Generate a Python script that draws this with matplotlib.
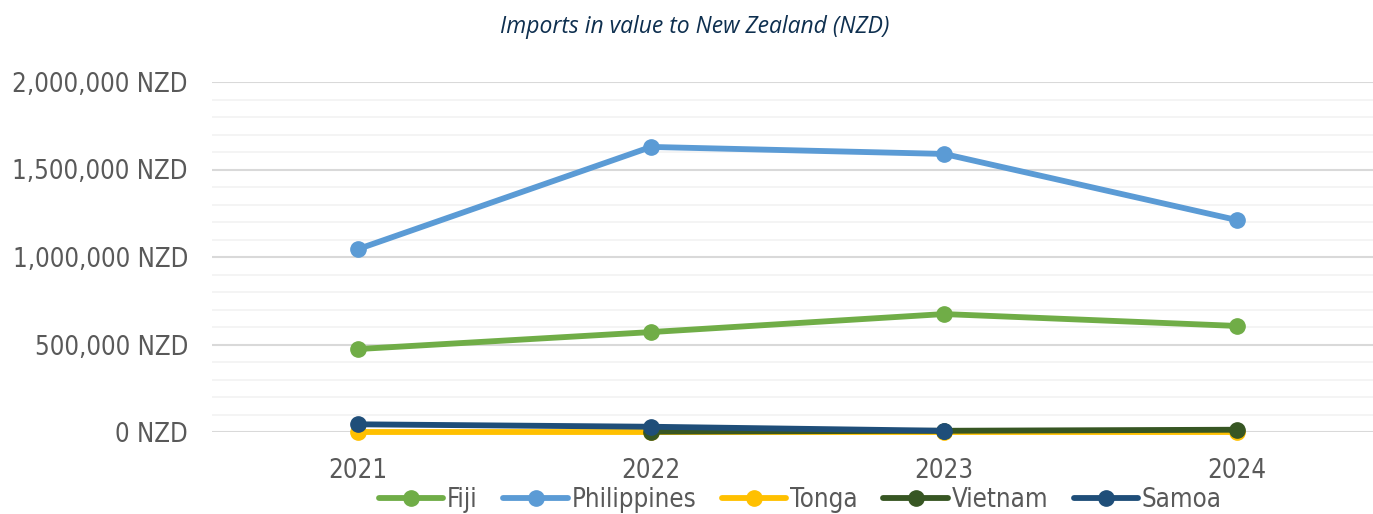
import numpy as np
import matplotlib
matplotlib.use("Agg")
import matplotlib.pyplot as plt
from matplotlib import font_manager
from matplotlib.ticker import FuncFormatter, MultipleLocator

# data (NZD)
years = ["2021", "2022", "2023", "2024"]
fiji = [474000, 571000, 674000, 606000]
philippines = [1045000, 1629000, 1589000, 1211000]
tonga = [1000, 1000, 1000, 1000]
vietnam = [np.nan, 2000, 7000, 13000]
samoa = [44000, 30000, 7000, np.nan]

series_names = ["Fiji", "Philippines", "Tonga", "Vietnam", "Samoa"]
series_vals = [fiji, philippines, tonga, vietnam, samoa]
series_cols = ["#70AD47", "#5B9BD5", "#FFC000", "#375623", "#1F4E79"]

GREY = "#595959"

# the reference uses a condensed sans; take one if installed
narrow = None
for f in font_manager.fontManager.ttflist:
    if f.style == "normal" and f.weight in (400, "normal", "regular"):
        if "Narrow" in f.name or "Condensed" in f.name or f.stretch in ("condensed", 300, 400) and "Condensed" in f.fname:
            narrow = f
            break
if narrow is not None:
    tick_prop = font_manager.FontProperties(fname=narrow.fname, size=18.5)
else:
    tick_prop = font_manager.FontProperties(family=["Roboto", "DejaVu Sans"], size=15.5)

fig = plt.figure(figsize=(13.73, 5.14), dpi=100)
ax = fig.add_axes([211.5 / 1373, 1 - 432 / 514, 1172 / 1373, 350 / 514])

x = np.arange(len(years))
for name, vals, col in zip(series_names, series_vals, series_cols):
    ax.plot(x, vals, color=col, lw=4.2, marker="o", ms=11,
            solid_capstyle="round", label=name, zorder=3, clip_on=False)

ax.set_xlim(-0.5, len(years) - 0.5)
ax.set_ylim(0, 2000000)
ax.yaxis.set_major_locator(MultipleLocator(500000))
ax.yaxis.set_minor_locator(MultipleLocator(100000))
ax.yaxis.set_major_formatter(FuncFormatter(lambda v, p: f"{int(v):,} NZD"))
ax.grid(axis="y", which="major", color="#D9D9D9", lw=1.5, zorder=0)
ax.grid(axis="y", which="minor", color="#F2F2F2", lw=1.2, zorder=0)
ax.set_xticks(x)
ax.set_xticklabels(years)
for s in ax.spines.values():
    s.set_visible(False)
ax.tick_params(axis="both", which="both", length=0, colors=GREY)
ax.tick_params(axis="y", pad=17)
ax.tick_params(axis="x", pad=19)
for lab in ax.get_xticklabels() + ax.get_yticklabels():
    lab.set_fontproperties(tick_prop)

fig.text(0.506, 1 - 27 / 514, "Imports in value to New Zealand (NZD)",
         ha="center", va="center", fontsize=16.5, style="italic",
         color="#0E2F4F", family=["Open Sans", "DejaVu Sans"])

fig.legend(loc="center", bbox_to_anchor=(0.583, 1 - 500 / 514), ncol=5,
           frameon=False, handlelength=2.5, columnspacing=1.0,
           handletextpad=0.15, labelcolor=GREY, prop=tick_prop)

fig.savefig("out.png", dpi=100)
